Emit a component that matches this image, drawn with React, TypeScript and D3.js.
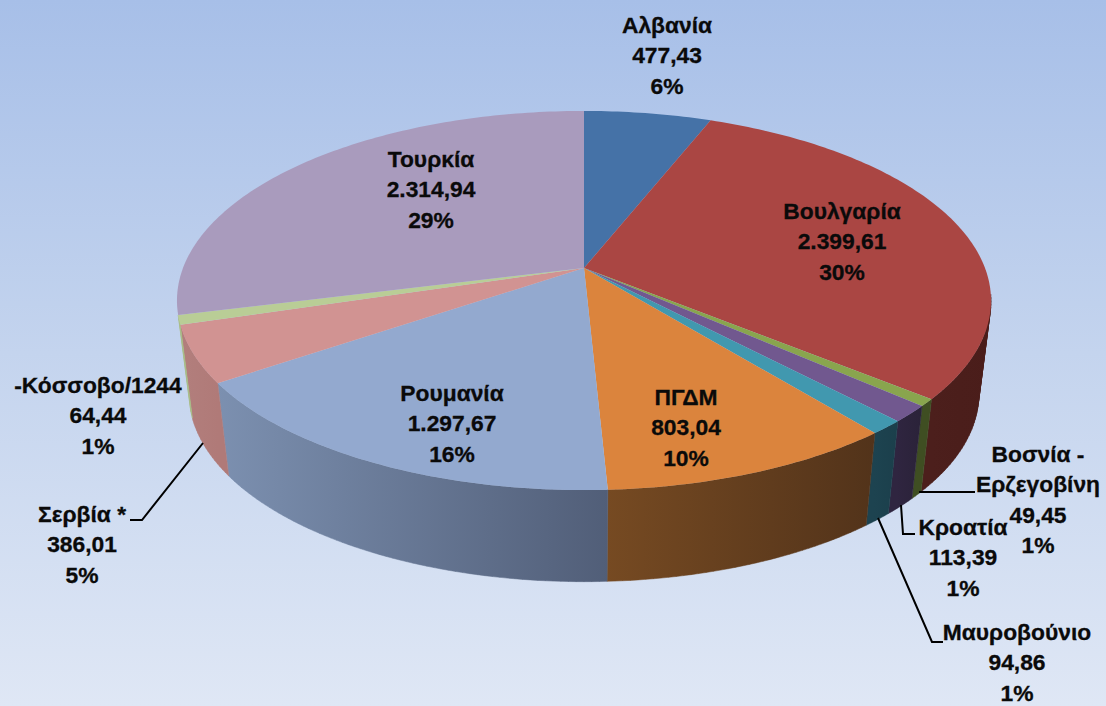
import React from "react";
import * as d3 from "d3";

const names = ["Αλβανία","Βουλγαρία","Βοσνία - Ερζεγοβίνη","Κροατία","Μαυροβούνιο","ΠΓΔΜ","Ρουμανία","Σερβία *","-Κόσσοβο/1244","Τουρκία"];
const values = [477.43,2399.61,49.45,113.39,94.86,803.04,1297.67,386.01,64.44,2314.94];
const topColors = ["#4572a7","#aa4643","#89a54e","#71588f","#4198af","#db843d","#93a9cf","#d19392","#b9cd96","#a99bbd"];
const wallFrom = ["#2e4a6e","#4c1f1c","#3f4e22","#2f2540","#1d4350","#764a22","#7c90b0","#b27f7d","#a8bc88","#6a5f7c"];
const wallTo = ["#2e4a6e","#4a1d1a","#3f4e22","#2a2238","#1b3f4b","#52331a","#515e78","#b07a78","#a8bc88","#6a5f7c"];

const labels: { lines: string[]; x: number; y: number }[] = [
  { lines: ["Αλβανία","477,43","6%"], x: 667, y: 33 },
  { lines: ["Βουλγαρία","2.399,61","30%"], x: 842, y: 219 },
  { lines: ["Βοσνία -","Ερζεγοβίνη","49,45","1%"], x: 1038, y: 462 },
  { lines: ["Κροατία","113,39","1%"], x: 963, y: 535 },
  { lines: ["Μαυροβούνιο","94,86","1%"], x: 1017, y: 640 },
  { lines: ["ΠΓΔΜ","803,04","10%"], x: 686, y: 405 },
  { lines: ["Ρουμανία","1.297,67","16%"], x: 452, y: 401 },
  { lines: ["Σερβία *","386,01","5%"], x: 82, y: 522 },
  { lines: ["-Κόσσοβο/1244","64,44","1%"], x: 98, y: 393 },
  { lines: ["Τουρκία","2.314,94","29%"], x: 431, y: 167 },
];
const leaderLines: [number, number][][] = [
  [[919, 492], [975, 492]],
  [[901, 505], [903, 534], [915, 534]],
  [[878, 518], [932, 642], [943, 642]],
  [[203, 443], [142, 520], [130, 520]],
];

const cx = 584, cy = 268, R = 401, S = 184, k = 0.1715;
const sxB = 0.97, SB = 182, cyB = 362;
const wallStart = (98 * Math.PI) / 180, wallEnd = (255.8 * Math.PI) / 180;
const project = (a: number, bottom: boolean): [number, number] => {
  const u = Math.sin(a), v = -Math.cos(a), w = 1 - k * v;
  return bottom
    ? [cx + (sxB * R * u) / w, cyB + (SB * v) / w]
    : [cx + (R * u) / w, cy + (S * v) / w];
};

const pie = d3.pie<number>().sort(null).value((d) => d)(values);
const line = d3.line();
const angles = (a0: number, a1: number) => {
  const n = Math.max(2, Math.ceil((a1 - a0) * 60));
  return d3.range(n + 1).map((i) => a0 + ((a1 - a0) * i) / n);
};
const wallPath = (a0: number, a1: number) => {
  const as = angles(a0, a1);
  return as
    .slice(1)
    .map((a, j) => {
      const q: [number, number][] = [project(as[j], false), project(a, false), project(a, true), project(as[j], true)];
      const oriented = d3.polygonArea(q) < 0 ? q.slice().reverse() : q;
      return line(oriented)! + "Z";
    })
    .join("");
};

export default function App() {
  return (
    <svg width={1106} height={706} style={{ position: "absolute", left: 0, top: 0, display: "block" }}>
      <defs>
        <linearGradient id="bg" x1="0" y1="0" x2="0" y2="1">
          <stop offset="0" stopColor="#a7bfe8" />
          <stop offset="0.5" stopColor="#c4d4ee" />
          <stop offset="1" stopColor="#dfe7f5" />
        </linearGradient>
        {pie.map((p, i) => {
          const a = project(Math.max(p.startAngle, wallStart), false)[0];
          const b = project(Math.min(p.endAngle, wallEnd), false)[0];
          return (
            <linearGradient key={i} id={`w${i}`} gradientUnits="userSpaceOnUse" x1={Math.min(a, b) - 1} x2={Math.max(a, b) + 1} y1={0} y2={0}>
              <stop offset="0" stopColor={wallFrom[i]} />
              <stop offset="1" stopColor={wallTo[i]} />
            </linearGradient>
          );
        })}
      </defs>
      <rect width={1106} height={706} fill="url(#bg)" />
      {pie.map((p, i) => {
        const a0 = Math.max(p.startAngle, wallStart);
        const a1 = Math.min(p.endAngle, wallEnd);
        if (a0 >= a1) return null;
        return <path key={i} d={wallPath(a0, a1)} fill={`url(#w${i})`} stroke={`url(#w${i})`} strokeWidth={0.5} />;
      })}
      {pie.map((p, i) => (
        <path key={i} d={line([[cx, cy], ...angles(p.startAngle, p.endAngle).map((a) => project(a, false))])! + "Z"} fill={topColors[i]} />
      ))}
      {leaderLines.map((l, i) => (
        <path key={i} d={line(l)!} fill="none" stroke="#000" strokeWidth={2} />
      ))}
      {labels.map((l, i) => (
        <text key={i} textAnchor="middle" fontFamily="'Liberation Sans', Arial, sans-serif" fontWeight={700} fontSize={22.8} fill="#0a0a0a" stroke="#0a0a0a" strokeWidth={0.3}>
          {l.lines.map((t, j) => (
            <tspan key={j} x={l.x} y={l.y + j * 30.4}>{t}</tspan>
          ))}
        </text>
      ))}
    </svg>
  );
}
